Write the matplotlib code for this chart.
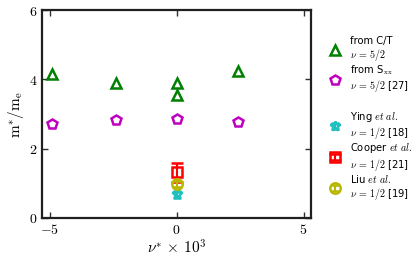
import numpy as np
import matplotlib.pyplot as plt
from matplotlib.legend_handler import HandlerErrorbar

plt.rcParams['mathtext.fontset'] = 'cm'
plt.rcParams['font.family'] = 'DejaVu Sans'

# data
ct_x = [-4.9, -2.4, 0.0, 0.0, 2.4]
ct_y = [4.15, 3.9, 3.9, 3.55, 4.25]
sxx_x = [-4.9, -2.4, 0.0, 2.4]
sxx_y = [2.7, 2.82, 2.85, 2.77]
ying_x, ying_y, ying_err = [0.0], [0.68], [0.1]
cooper_x, cooper_y, cooper_err = [0.0], [1.32], [0.27]
liu_x, liu_y, liu_err = [0.0], [0.98], [0.08]

xticks = [-5, 0, 5]
yticks = [0, 2, 4, 6]

fig = plt.figure(figsize=(4.16, 2.57), dpi=100)
ax = fig.add_axes([0.101, 0.152, 0.647, 0.809])

green = '#008000'
mag = '#c000c0'
cyan = '#20c0c0'
red = '#ff0000'
yel = '#b8b800'

h1, = ax.plot(ct_x, ct_y, '^', ms=7, mfc='none', mec=green, mew=1.8, ls='none')
h2, = ax.plot(sxx_x, sxx_y, 'p', ms=7.5, mfc='none', mec=mag, mew=1.8, ls='none')
h3 = ax.errorbar(ying_x, ying_y, yerr=ying_err, fmt='*', ms=7.5, mfc='none', mec=cyan,
                 mew=1.8, ecolor=cyan, elinewidth=1.5, capsize=3, capthick=1.5)
h4 = ax.errorbar(cooper_x, cooper_y, yerr=cooper_err, fmt='s', ms=6.5, mfc='none', mec=red,
                 mew=1.8, ecolor=red, elinewidth=1.5, capsize=4, capthick=1.5)
h5 = ax.errorbar(liu_x, liu_y, yerr=liu_err, fmt='o', ms=7.5, mfc='none', mec=yel,
                 mew=1.8, ecolor=yel, elinewidth=1.5, capsize=3, capthick=1.5)

ax.set_xlim(-5.3, 5.3)
ax.set_ylim(0, 6)
ax.set_xticks(xticks)
ax.set_xticklabels(['$%d$' % t if t >= 0 else '$-%d$' % -t for t in xticks], fontsize=10)
ax.set_yticks(yticks)
ax.set_yticklabels(['$%d$' % t for t in yticks], fontsize=10)
ax.tick_params(direction='in', top=True, right=True, length=4, width=1, color='#303030')
for s in ax.spines.values():
    s.set_linewidth(1.6)
    s.set_color('#202020')
ax.set_xlabel(r'$\nu^{*}\,\times\,10^{3}$', fontsize=11, labelpad=1)
ax.set_ylabel(r'$\mathrm{m}^{*}/\mathrm{m}_{\mathrm{e}}$', fontsize=11, labelpad=2)

leg_kw = dict(loc='upper left', frameon=False, fontsize=7.2, handlelength=1.2,
              handletextpad=0.9, labelspacing=0.05, borderaxespad=0, borderpad=0)
leg1 = ax.legend([h1, h2],
                 ['from C/T\n' + r'$\nu\,=\,5/2$',
                  'from S$_{\\mathrm{xx}}$\n' + r'$\nu\,=\,5/2$ [27]'],
                 bbox_to_anchor=(1.065, 0.875), **leg_kw)
ax.add_artist(leg1)
leg2 = ax.legend([h3, h4, h5],
                 ['Ying $et\\ al.$\n' + r'$\nu\,=\,1/2$ [18]',
                  'Cooper $et\\ al.$\n' + r'$\nu\,=\,1/2$ [21]',
                  'Liu $et\\ al.$\n' + r'$\nu\,=\,1/2$ [19]'],
                 bbox_to_anchor=(1.065, 0.52),
                 handler_map={type(h3): HandlerErrorbar(xerr_size=0.3)}, **leg_kw)
for lg in (leg1, leg2):
    for t in lg.get_texts():
        t.set_linespacing(1.1)

fig.savefig('out.png', dpi=100)
